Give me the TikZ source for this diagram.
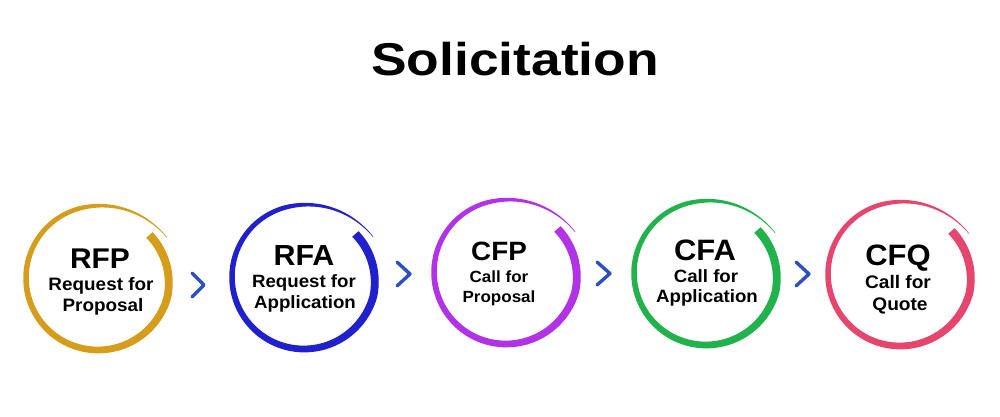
\documentclass[tikz,border=0pt]{standalone}
\usepackage{fontspec}
\setmainfont{Liberation Sans}
\newfontfamily\ttlfont[FakeStretch=1.16]{Liberation Sans}
\newfontfamily\lblfont[FakeStretch=1.05]{Liberation Sans}
\definecolor{cgold}{HTML}{D59D1B}
\definecolor{cblue}{HTML}{2020CC}
\definecolor{cpurple}{HTML}{B233E6}
\definecolor{cgreen}{HTML}{22B24C}
\definecolor{cpink}{HTML}{E4466E}
\definecolor{cchev}{HTML}{2E4FC0}
\newcommand\brushring[3]{%
  \fill[#3] plot[domain=0:1,samples=160,variable=\t]
    ({#1+(72+brdr(\t)+0.5*brw(\t))*cos(40-370*\t)},{#2+(72+brdr(\t)+0.5*brw(\t))*sin(40-370*\t)})
    -- plot[domain=1:0,samples=160,variable=\t]
    ({#1+(72+brdr(\t)-0.5*brw(\t))*cos(40-370*\t)},{#2+(72+brdr(\t)-0.5*brw(\t))*sin(40-370*\t)})
    -- cycle;}
\begin{document}
\begin{tikzpicture}[x=1pt,y=1pt,
  declare function={
    brdr(\t)=-5*(1-min(\t/0.15,1))+8*(max(\t-0.8,0)/0.2)*(max(\t-0.8,0)/0.2);
    brw(\t)=8.5-5*\t-3*max(\t-0.8,0)/0.2;
  },
  ring/.style={circle,minimum size=144pt,inner sep=0pt},
  lbl/.style={anchor=base,inner sep=0pt},
  chev/.style={draw=cchev,line width=3.4pt,line cap=round,line join=round}]
\useasboundingbox (0,0) rectangle (1000,416);
\fill[white] (0,0) rectangle (1000,416);

\node[lbl,font=\ttlfont\bfseries\fontsize{46}{50}\selectfont] (title) at (515,341) {Solicitation};

% rings
\node[ring] (c1) at (98,138) {};
\node[ring] (c2) at (304,139) {};
\node[ring] (c3) at (506,144) {};
\node[ring] (c4) at (706,143) {};
\node[ring] (c5) at (900,142) {};
\brushring{98}{138}{cgold}
\brushring{304}{139}{cblue}
\brushring{506}{144}{cpurple}
\brushring{706}{143}{cgreen}
\brushring{900}{142}{cpink}

% labels
\node[lbl,font=\lblfont\bfseries\fontsize{28.5}{30}\selectfont] (a1) at (100,148) {RFP};
\node[lbl,font=\lblfont\bfseries\fontsize{18}{20}\selectfont] (b1) at (101,126) {Request for};
\node[lbl,font=\lblfont\bfseries\fontsize{18}{20}\selectfont] (d1) at (103,105) {Proposal};

\node[lbl,font=\lblfont\bfseries\fontsize{29}{30}\selectfont] (a2) at (304,151) {RFA};
\node[lbl,font=\lblfont\bfseries\fontsize{17.8}{20}\selectfont] (b2) at (304,129) {Request for};
\node[lbl,font=\lblfont\bfseries\fontsize{17.8}{20}\selectfont] (d2) at (305,108) {Application};

\node[lbl,font=\lblfont\bfseries\fontsize{26.5}{30}\selectfont] (a3) at (499,156) {CFP};
\node[lbl,font=\lblfont\bfseries\fontsize{16.2}{20}\selectfont] (b3) at (499,134) {Call for};
\node[lbl,font=\lblfont\bfseries\fontsize{16.2}{20}\selectfont] (d3) at (499,114) {Proposal};

\node[lbl,font=\lblfont\bfseries\fontsize{29.5}{30}\selectfont] (a4) at (705,156) {CFA};
\node[lbl,font=\lblfont\bfseries\fontsize{17.8}{20}\selectfont] (b4) at (706,134) {Call for};
\node[lbl,font=\lblfont\bfseries\fontsize{17.8}{20}\selectfont] (d4) at (707,114) {Application};

\node[lbl,font=\lblfont\bfseries\fontsize{29.5}{30}\selectfont] (a5) at (898,151) {CFQ};
\node[lbl,font=\lblfont\bfseries\fontsize{18.2}{20}\selectfont] (b5) at (898,128) {Call for};
\node[lbl,font=\lblfont\bfseries\fontsize{18.2}{20}\selectfont] (d5) at (900,106) {Quote};

% chevrons
\draw[chev] (192,143) -- (204,131) -- (192,119);
\draw[chev] (397,154) -- (410,142) -- (397,130);
\draw[chev] (597,154) -- (610,142.5) -- (597,131);
\draw[chev] (796,154) -- (809,142) -- (796,130);
\end{tikzpicture}
\end{document}
